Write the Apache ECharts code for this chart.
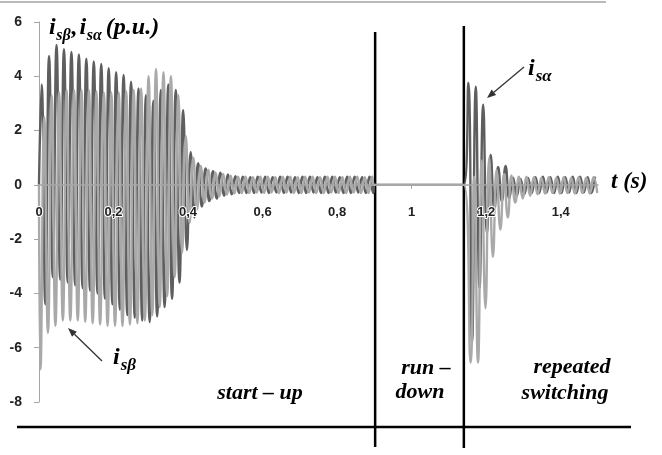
<!DOCTYPE html>
<html>
<head>
<meta charset="utf-8">
<script src="https://cdn.jsdelivr.net/npm/echarts@6/dist/echarts.min.js"></script>
<style>
  html, body { margin: 0; padding: 0; background: #fff; }
  #chart { width: 662px; height: 455px; }
</style>
</head>
<body>
<div id="chart"></div>
<script>
// stator currents (p.u.), successive peaks, one every half period (50 Hz)
var halfPeriod = 0.01;

// start-up + steady running, 0 .. 0.9 s
var alphaStartT = 0.007;
var isAlphaStart = [
  3.7, -4.4, 4.75, -3.4, 5.15, -3.5, 5.0, -3.6, 4.9, -3.7, 4.8, -3.8, 4.65, -3.9, 4.55, -4.0,
  4.45, -4.2, 4.3, -4.4, 4.15, -4.6, 4.05, -4.8, 3.8, -4.9, 3.55, -5.0, 3.3, -5.05, 3.1, -4.85,
  3.5, -4.5, 3.7, -4.2, 3.5, -3.6, 2.75, -2.4, 1.2, -1.2, 0.8, -0.8, 0.6, -0.6,
  0.5, -0.5, 0.45, -0.4, 0.38, -0.35, 0.32, -0.3, 0.3, -0.3, 0.28, -0.3, 0.3, -0.28, 0.3, -0.3,
  0.28, -0.28, 0.3, -0.3, 0.3, -0.28, 0.28, -0.3, 0.3, -0.3, 0.3, -0.28, 0.28, -0.3, 0.3, -0.3,
  0.3, -0.28, 0.28, -0.3, 0.3, -0.3, 0.3, -0.28, 0.28, -0.3, 0.3, -0.3
];
var betaStartT = 0.004;
var isBetaStart = [
  -6.8, 2.5, -5.45, 3.3, -5.2, 3.4, -5.0, 3.5, -5.0, 3.5, -5.0, 3.5, -5.05, 3.5, -5.1, 3.45,
  -5.15, 3.4, -5.2, 3.4, -5.2, 3.4, -5.2, 3.45, -5.15, 3.5, -5.1, 3.55, -5.0, 4.0, -4.8, 4.27,
  -4.5, 4.15, -4.1, 4.0, -3.4, 3.3, -2.5, 1.8, -1.4, 1.0, -0.9, 0.7, -0.65, 0.55,
  -0.5, 0.45, -0.42, 0.4, -0.36, 0.34, -0.32, 0.3, -0.3, 0.3, -0.3, 0.28, -0.28, 0.3, -0.3, 0.3,
  -0.28, 0.28, -0.3, 0.3, -0.28, 0.3, -0.3, 0.28, -0.3, 0.3, -0.28, 0.3, -0.3, 0.28, -0.3, 0.3,
  -0.28, 0.3, -0.3, 0.28, -0.3, 0.3, -0.28, 0.3, -0.3, 0.28, -0.3, 0.3
];

// run-down: supply off, currents zero
var runDown = [0.9, 1.14];

// repeated switching, 1.14 .. 1.5 s
var alphaSwitchT = 1.152;
var isAlphaSwitch = [
  3.76, -5.8, 3.62, -3.8, 2.95, -1.8, 1.1, -0.9, 0.66, -0.6, 0.7, -0.5, 0.26, -0.4, 0.22, -0.35,
  0.25, -0.3, 0.28, -0.3, 0.3, -0.28, 0.28, -0.3, 0.3, -0.3, 0.28, -0.28, 0.3, -0.3, 0.3, -0.28,
  0.28, -0.3, 0.3
];
var betaSwitchT = 1.158;
var isBetaSwitch = [
  -6.55, 0.3, -6.55, 0.9, -4.55, 1.0, -2.65, 0.55, -1.65, 0.4, -1.2, 0.35, -0.65, 0.3, -0.5, 0.3,
  -0.4, 0.28, -0.35, 0.25, -0.32, 0.28, -0.3, 0.25, -0.32, 0.28, -0.3, 0.25, -0.32, 0.28, -0.3, 0.25,
  -0.32, 0.28, -0.3
];

var xTicks = [0, 0.2, 0.4, 0.6, 0.8, 1, 1.2, 1.4];
var yTicks = [-8, -6, -4, -2, 0, 2, 4, 6];

function buildSeries(t0, peaks, t1, peaks2) {
  var d = [[0, 0]];
  peaks.forEach(function (v, i) { d.push([t0 + i * halfPeriod, v]); });
  d.push([runDown[0], 0], [runDown[1], 0]);
  peaks2.forEach(function (v, i) { d.push([t1 + i * halfPeriod, v]); });
  return d;
}

var SERIF = '"Liberation Serif", "DejaVu Serif", serif';
var BI = function (px) { return 'italic bold ' + px + 'px ' + SERIF; };

var gridTop = 22, gridBottom = 53;
var plotH = 455 - gridTop - gridBottom;
var yMin = -8, yMax = 6;

var chartDom = document.getElementById("chart");
var myChart = echarts.init(chartDom);
var option;

option = {
  animation: false,
  grid: {
    left: 39,
    right: 64,
    top: gridTop,
    bottom: gridBottom,
    outerBoundsMode: "none",
  },
  xAxis: {
    type: "value",
    min: 0,
    max: 1.5,
    interval: 0.2,
    z: 5,
    // axis crosses the y axis at zero
    offset: -plotH * (0 - yMin) / (yMax - yMin),
    axisLine: { onZero: false, lineStyle: { color: "#a6a6a6", width: 1.5 } },
    axisTick: { show: true, length: 4, customValues: xTicks, lineStyle: { color: "#a6a6a6" } },
    splitLine: { show: false },
    axisLabel: {
      margin: 21,
      color: "#222",
      fontWeight: "bold",
      fontSize: 13,
      fontFamily: "Liberation Sans",
      textBorderColor: "#fff",
      textBorderWidth: 2,
      customValues: xTicks,
      formatter: function (v) {
        return String(Math.round(v * 10) / 10).replace(".", ",");
      },
    },
  },
  yAxis: {
    type: "value",
    min: yMin,
    max: yMax,
    interval: 2,
    axisLine: { show: true, onZero: false, lineStyle: { color: "#a6a6a6", width: 1 } },
    axisTick: { show: true, length: 5, lineStyle: { color: "#a6a6a6" } },
    splitLine: { show: false },
    axisLabel: {
      margin: 17,
      color: "#222",
      fontWeight: "bold",
      fontSize: 14,
      fontFamily: "Liberation Sans",
      formatter: function (v) { return yTicks.indexOf(v) < 0 ? "" : String(v); },
    },
  },
  series: [
    {
      name: "isα",
      type: "line",
      smooth: 0.5,
      showSymbol: false,
      lineStyle: { color: "#5e5e5e", width: 2.4 },
      data: buildSeries(alphaStartT, isAlphaStart, alphaSwitchT, isAlphaSwitch),
    },
    {
      name: "isβ",
      type: "line",
      smooth: 0.5,
      showSymbol: false,
      lineStyle: { color: "#a9a9a9", width: 2.4 },
      data: buildSeries(betaStartT, isBetaStart, betaSwitchT, isBetaSwitch),
    },
  ],
};

option && myChart.setOption(option);

// annotations
var ctx = document.createElement("canvas").getContext("2d");
function textW(font, s) { ctx.font = font; return ctx.measureText(s).width; }

// main text with subscripts: parts = [[text, isSub, gapAfter], ...]
function subText(x, y, parts, size, subRatio) {
  var out = [];
  parts.forEach(function (p) {
    var f = p[1] ? BI(Math.round(size * subRatio)) : BI(size);
    out.push({
      type: "text",
      style: {
        x: x, y: p[1] ? y + size * 0.32 : y,
        text: p[0], font: f, fill: "#000",
        verticalAlign: "middle", align: "left",
      },
    });
    x += textW(f, p[0]) + (p[2] || 0.5);
  });
  return out;
}

function arrow(x1, y1, x2, y2) {
  var a = Math.atan2(y2 - y1, x2 - x1), L = 9, W = 3.5;
  var bx = x2 - L * Math.cos(a), by = y2 - L * Math.sin(a);
  var nx = -Math.sin(a) * W, ny = Math.cos(a) * W;
  return [
    { type: "line", shape: { x1: x1, y1: y1, x2: bx, y2: by }, style: { stroke: "#333", lineWidth: 1.3 } },
    { type: "polygon", shape: { points: [[x2, y2], [bx + nx, by + ny], [bx - nx, by - ny]] }, style: { fill: "#333" } },
  ];
}

function label(x, y, s, size) {
  return { type: "text", style: { x: x, y: y, text: s, font: BI(size), fill: "#000", align: "center", verticalAlign: "middle" } };
}

var xa = myChart.convertToPixel({ xAxisIndex: 0 }, 0.902);
var xb = myChart.convertToPixel({ xAxisIndex: 0 }, 1.14);

var g = [];
g.push({ type: "line", shape: { x1: 0, y1: 2, x2: 606, y2: 2 }, style: { stroke: "#777", lineWidth: 1.2 } });
g.push({ type: "line", shape: { x1: xa, y1: 32, x2: xa, y2: 447 }, style: { stroke: "#000", lineWidth: 2.5 } });
g.push({ type: "line", shape: { x1: xb, y1: 26, x2: xb, y2: 448 }, style: { stroke: "#000", lineWidth: 2.5 } });
g.push({ type: "line", shape: { x1: 17, y1: 427, x2: 631, y2: 427 }, style: { stroke: "#000", lineWidth: 2.5 } });

g = g.concat(subText(49, 28, [["i", false], ["sβ", true, 1], [",", false, 2], ["i", false], ["sα", true, 4], ["(p.u.)", false]], 24, 0.66));
g = g.concat(subText(528, 69, [["i", false, 1], ["sα", true]], 24, 0.72));
g = g.concat(subText(113, 358, [["i", false, 1], ["sβ", true]], 24, 0.72));
g.push({ type: "text", style: { x: 611, y: 182, text: "t (s)", font: BI(23), fill: "#000", align: "left", verticalAlign: "middle" } });

g = g.concat(arrow(524, 67, 487, 98));
g = g.concat(arrow(102, 361, 68, 328));

g.push(label(260, 393, "start – up", 22));
g.push(label(426, 368, "run –", 22));
g.push(label(420, 392, "down", 22));
g.push(label(572, 367, "repeated", 22));
g.push(label(565, 393, "switching", 22));

myChart.setOption({ graphic: { elements: g } });
</script>
</body>
</html>
